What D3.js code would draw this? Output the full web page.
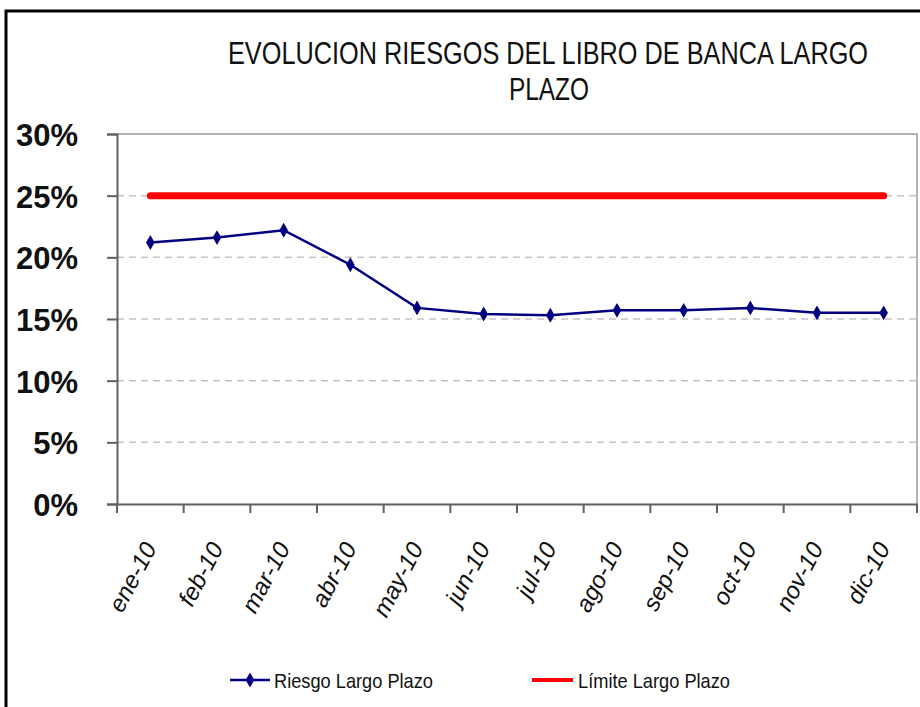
<!DOCTYPE html>
<html>
<head>
<meta charset="utf-8">
<script src="https://cdn.jsdelivr.net/npm/d3@7"></script>
<style>
  body { margin: 0; background: #fff; }
  svg { display: block; font-family: "Liberation Sans", Arial, sans-serif; }
</style>
</head>
<body>
<div id="chart"></div>
<script>
// Data
const months = ["ene-10", "feb-10", "mar-10", "abr-10", "may-10", "jun-10",
                "jul-10", "ago-10", "sep-10", "oct-10", "nov-10", "dic-10"];
const riesgo = [0.212, 0.216, 0.222, 0.194, 0.159, 0.154,
                0.153, 0.157, 0.157, 0.159, 0.155, 0.155];
const limite = [0.25, 0.25, 0.25, 0.25, 0.25, 0.25,
                0.25, 0.25, 0.25, 0.25, 0.25, 0.25];
const yTicks = [0, 0.05, 0.10, 0.15, 0.20, 0.25, 0.30];

const width = 920, height = 707;
const plot = { left: 117, right: 917, top: 134, bottom: 504 };

const svg = d3.select("#chart")
    .append("svg")
    .attr("width", width)
    .attr("height", height);

// Outer frame (only top and left edges are visible)
svg.append("rect")
    .attr("x", 6).attr("y", 11)
    .attr("width", 940).attr("height", 740)
    .attr("fill", "none")
    .attr("stroke", "#000")
    .attr("stroke-width", 3);

/**********/
/* Scales */
/**********/
const xScale = d3.scaleBand()
    .domain(months)
    .range([plot.left, plot.right]);

const yScale = d3.scaleLinear()
    .domain([0, 0.3])
    .range([plot.bottom, plot.top]);

const xc = d => xScale(d) + xScale.bandwidth() / 2;

/*************/
/* Gridlines */
/*************/
svg.append("g")
    .selectAll("line")
    .data(yTicks.filter(t => t > 0 && t < 0.3))
    .join("line")
        .attr("x1", plot.left)
        .attr("x2", plot.right)
        .attr("y1", d => yScale(d))
        .attr("y2", d => yScale(d))
        .attr("stroke", "#c4c4c4")
        .attr("stroke-width", 1.5)
        .attr("stroke-dasharray", "7,5");

// Plot border top and right
svg.append("path")
    .attr("d", `M${plot.left},${plot.top}H${plot.right}V${plot.bottom}`)
    .attr("fill", "none")
    .attr("stroke", "#9a9a9a")
    .attr("stroke-width", 1.5);

/********/
/* Axes */
/********/
const leftAxis = d3.axisLeft(yScale)
    .tickValues(yTicks)
    .tickSize(10)
    .tickPadding(0)
    .tickFormat(d3.format(".0%"));

const yAxisG = svg.append("g")
    .attr("transform", `translate(${plot.left},0)`)
    .call(leftAxis);
yAxisG.select(".domain").attr("stroke", "#606060").attr("stroke-width", 2);
yAxisG.selectAll(".tick line").attr("stroke", "#606060").attr("stroke-width", 2);
yAxisG.selectAll(".tick text")
    .attr("x", -39)
    .attr("dy", "0.37em")
    .attr("fill", "#111")
    .style("font-size", "31px")
    .style("font-weight", "bold");

const bottomAxis = d3.axisBottom(xScale)
    .tickSize(0)
    .tickFormat("");

const xAxisG = svg.append("g")
    .attr("transform", `translate(0,${plot.bottom})`)
    .call(bottomAxis);
xAxisG.select(".domain").attr("stroke", "#606060").attr("stroke-width", 2);

// Tick marks at band boundaries
svg.append("g")
    .selectAll("line")
    .data(months.concat(["end"]))
    .join("line")
        .attr("x1", (d, i) => i < months.length ? xScale(d) : plot.right)
        .attr("x2", (d, i) => i < months.length ? xScale(d) : plot.right)
        .attr("y1", plot.bottom)
        .attr("y2", plot.bottom + 9)
        .attr("stroke", "#606060")
        .attr("stroke-width", 2);

// Rotated month labels
svg.append("g")
    .selectAll("text")
    .data(months)
    .join("text")
        .attr("transform", d => `translate(${xc(d) + 7},548) rotate(-62)`)
        .attr("text-anchor", "end")
        .attr("fill", "#111")
        .style("font-size", "24px")
        .style("font-style", "italic")
        .text(d => d);

/**********/
/* Series */
/**********/
const seriesLine = d3.line()
    .x((d, i) => xc(months[i]))
    .y(d => yScale(d));

svg.append("path")
    .datum(limite)
    .attr("d", seriesLine)
    .attr("fill", "none")
    .attr("stroke", "#ff0000")
    .attr("stroke-width", 7)
    .attr("stroke-linecap", "round");

svg.append("path")
    .datum(riesgo)
    .attr("d", seriesLine)
    .attr("fill", "none")
    .attr("stroke", "#000080")
    .attr("stroke-width", 2.5);

const diamond = d3.symbol().type(d3.symbolDiamond).size(64);

svg.append("g")
    .selectAll("path")
    .data(riesgo)
    .join("path")
        .attr("transform", (d, i) => `translate(${xc(months[i])},${yScale(d)})`)
        .attr("d", diamond)
        .attr("fill", "#000080");

/*********/
/* Title */
/*********/
const title = svg.append("text")
    .attr("text-anchor", "middle")
    .attr("fill", "#111")
    .style("font-size", "31px");
title.append("tspan")
    .attr("x", 548).attr("y", 64)
    .attr("textLength", 640)
    .attr("lengthAdjust", "spacingAndGlyphs")
    .text("EVOLUCION RIESGOS DEL LIBRO DE BANCA LARGO");
title.append("tspan")
    .attr("x", 549).attr("y", 100)
    .attr("textLength", 80)
    .attr("lengthAdjust", "spacingAndGlyphs")
    .text("PLAZO");

/**********/
/* Legend */
/**********/
const legend = svg.append("g");

legend.append("line")
    .attr("x1", 230).attr("x2", 270)
    .attr("y1", 680).attr("y2", 680)
    .attr("stroke", "#000080")
    .attr("stroke-width", 2.5);
legend.append("path")
    .attr("transform", "translate(250,680)")
    .attr("d", diamond)
    .attr("fill", "#000080");
legend.append("text")
    .attr("x", 274).attr("y", 688)
    .attr("textLength", 159)
    .attr("lengthAdjust", "spacingAndGlyphs")
    .attr("fill", "#111")
    .style("font-size", "21px")
    .text("Riesgo Largo Plazo");

legend.append("line")
    .attr("x1", 532).attr("x2", 573)
    .attr("y1", 680).attr("y2", 680)
    .attr("stroke", "#ff0000")
    .attr("stroke-width", 4);
legend.append("text")
    .attr("x", 578).attr("y", 688)
    .attr("textLength", 152)
    .attr("lengthAdjust", "spacingAndGlyphs")
    .attr("fill", "#111")
    .style("font-size", "21px")
    .text("Límite Largo Plazo");
</script>
</body>
</html>
